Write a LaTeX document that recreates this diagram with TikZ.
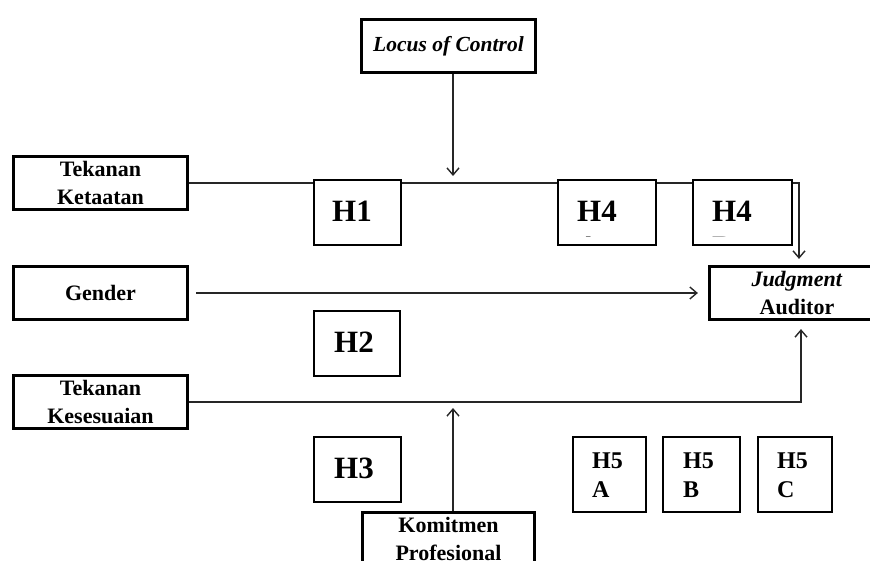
\documentclass[tikz,border=0pt]{standalone}
\usepackage{fontspec}
\setmainfont{Liberation Serif}
\usetikzlibrary{arrows.meta}
\begin{document}
\begin{tikzpicture}[x=1pt,y=-1pt,
  bigbox/.style={draw, line width=3.2pt, fill=white, inner sep=0pt, align=center, minimum height=53, font=\fontsize{22}{28.5}\selectfont\bfseries},
  hbox/.style={draw, line width=1.8pt, fill=white, inner sep=0pt},
  htxt/.style={inner sep=0pt, anchor=base west, font=\fontsize{31}{36}\selectfont\bfseries},
  h5txt/.style={inner sep=0pt, anchor=north west, align=left, font=\fontsize{24}{29}\selectfont\bfseries},
  conn/.style={line width=1.4pt, draw=black!85},
  arr/.style={conn, -{Straight Barb[length=7pt,width=12pt,line width=1.4pt]}}
]
\useasboundingbox (0,0) rectangle (870,560);
\clip (0,0) rectangle (870,560);

% main boxes
\node[bigbox, minimum width=174, font=\fontsize{21.5}{28}\selectfont\bfseries] (loc) at (448.5,46) {\itshape Locus of Control};
\node[bigbox, minimum width=174] (tk) at (100.5,183) {Tekanan\\Ketaatan};
\node[bigbox, minimum width=174] (gen) at (100.5,293) {Gender};
\node[bigbox, minimum width=174] (tks) at (100.5,402) {Tekanan\\Kesesuaian};
\node[bigbox, minimum width=175] (jud) at (797,293) {\textit{Judgment}\\Auditor};
\node[bigbox, minimum width=172] (kom) at (448.5,539) {Komitmen\\Profesional};

% coordinates
\coordinate (c1) at (799,183);
\coordinate (c2) at (801,402);
\coordinate (lo1) at (453,176);
\coordinate (ko1) at (453,408);

% connectors
\draw[arr, shorten >=6pt] (tk.east) -- (c1) -- (c1 |- jud.north);
\draw[arr, shorten <=7pt, shorten >=10pt] (gen.east) -- (jud.west);
\draw[arr, shorten >=8pt] (tks.east) -- (c2) -- (c2 |- jud.south);
\draw[arr] (loc.south -| lo1) -- (lo1);
\draw[arr] (kom.north -| ko1) -- (ko1);

% hypothesis boxes
\node[hbox, minimum width=87, minimum height=65] (h1) at (357.5,212.5) {};
\node[hbox, minimum width=86, minimum height=65] (h2) at (357,343.5) {};
\node[hbox, minimum width=87, minimum height=65] (h3) at (357.5,469.5) {};
\node[hbox, minimum width=98, minimum height=65] (h4a) at (607,212.5) {};
\node[hbox, minimum width=99, minimum height=65] (h4b) at (742.5,212.5) {};
\node[hbox, minimum width=73, minimum height=75] (h5a) at (609.5,474.5) {};
\node[hbox, minimum width=77, minimum height=75] (h5b) at (701.5,474.5) {};
\node[hbox, minimum width=74, minimum height=75] (h5c) at (795,474.5) {};

% hypothesis labels
\node[htxt] (t1) at (332,221) {H1};
\node[htxt] (t2) at (334,352) {H2};
\node[htxt] (t3) at (334,478) {H3};
\node[htxt] (t4a) at (577,221) {H4};
\node[htxt] (t4b) at (712,221) {H4};
\begin{scope}
\clip (557,179) rectangle (657,236.8);
\node[htxt] (t4a2) at (577,257) {A};
\end{scope}
\begin{scope}
\clip (692,179) rectangle (793,236.8);
\node[htxt] (t4b2) at (712,257) {B};
\end{scope}
\node[h5txt] (t5a) at (592,452.5) {H5\\A};
\node[h5txt] (t5b) at (683,452.5) {H5\\B};
\node[h5txt] (t5c) at (777,452.5) {H5\\C};
\end{tikzpicture}
\end{document}
